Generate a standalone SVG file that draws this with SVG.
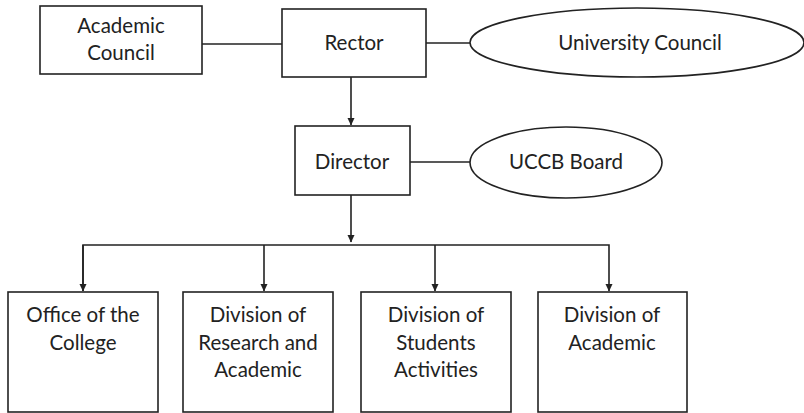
<svg xmlns="http://www.w3.org/2000/svg" width="804" height="413" viewBox="0 0 804 413">
  <style>
    .box { fill: #ffffff; stroke: #222222; stroke-width: 1.6; }
    .link { fill: none; stroke: #222222; stroke-width: 1.6; }
    .label { font-family: Lato, "Open Sans", "Liberation Sans", sans-serif; font-size: 20.5px; fill: #222222; text-anchor: middle; }
  </style>
  <defs>
    <marker id="arrow" markerWidth="8" markerHeight="8" refX="7" refY="4" orient="auto" markerUnits="userSpaceOnUse">
      <path d="M0,0.5 L7.5,4 L0,7.5 Z" fill="#222222"/>
    </marker>
  </defs>
  <rect width="804" height="413" fill="#ffffff"/>

  <!-- connectors -->
  <g id="connectors">
    <line class="link" x1="202" y1="44" x2="282" y2="44"/>
    <line class="link" x1="426" y1="43" x2="470" y2="43"/>
    <line class="link" x1="351" y1="77" x2="351" y2="125" marker-end="url(#arrow)"/>
    <line class="link" x1="410" y1="162" x2="470" y2="162"/>
    <line class="link" x1="351" y1="195" x2="351" y2="242" marker-end="url(#arrow)"/>
    <!-- distribution bus to the four divisions -->
    <polyline class="link" points="83,291 83,245 609,245 609,291" marker-end="url(#arrow)"/>
    <line class="link" x1="83" y1="245" x2="83" y2="291" marker-end="url(#arrow)"/>
    <line class="link" x1="264" y1="245" x2="264" y2="291" marker-end="url(#arrow)"/>
    <line class="link" x1="435" y1="245" x2="435" y2="291" marker-end="url(#arrow)"/>
  </g>

  <g id="academic-council">
    <rect class="box" x="40" y="6" width="162" height="68"/>
    <text class="label" x="121" y="33">Academic</text>
    <text class="label" x="121" y="60">Council</text>
  </g>
  <g id="rector">
    <rect class="box" x="282" y="9" width="144" height="68"/>
    <text class="label" x="354" y="50">Rector</text>
  </g>
  <g id="university-council">
    <ellipse class="box" cx="637" cy="42.5" rx="167" ry="34.5"/>
    <text class="label" x="640" y="50">University Council</text>
  </g>
  <g id="director">
    <rect class="box" x="295" y="126" width="115" height="69"/>
    <text class="label" x="352" y="169">Director</text>
  </g>
  <g id="uccb-board">
    <ellipse class="box" cx="566" cy="162.5" rx="96" ry="35.5"/>
    <text class="label" x="566" y="169">UCCB Board</text>
  </g>
  <g id="office-of-the-college">
    <rect class="box" x="8" y="292" width="150" height="120"/>
    <text class="label" x="83" y="322">Office of the</text>
    <text class="label" x="83" y="350">College</text>
  </g>
  <g id="division-research-academic">
    <rect class="box" x="183" y="292" width="150" height="120"/>
    <text class="label" x="258" y="322">Division of</text>
    <text class="label" x="258" y="350">Research and</text>
    <text class="label" x="258" y="377">Academic</text>
  </g>
  <g id="division-students-activities">
    <rect class="box" x="361" y="292" width="150" height="120"/>
    <text class="label" x="436" y="322">Division of</text>
    <text class="label" x="436" y="350">Students</text>
    <text class="label" x="436" y="377">Activities</text>
  </g>
  <g id="division-academic">
    <rect class="box" x="538" y="292" width="149" height="120"/>
    <text class="label" x="612" y="322">Division of</text>
    <text class="label" x="612" y="350">Academic</text>
  </g>
</svg>
